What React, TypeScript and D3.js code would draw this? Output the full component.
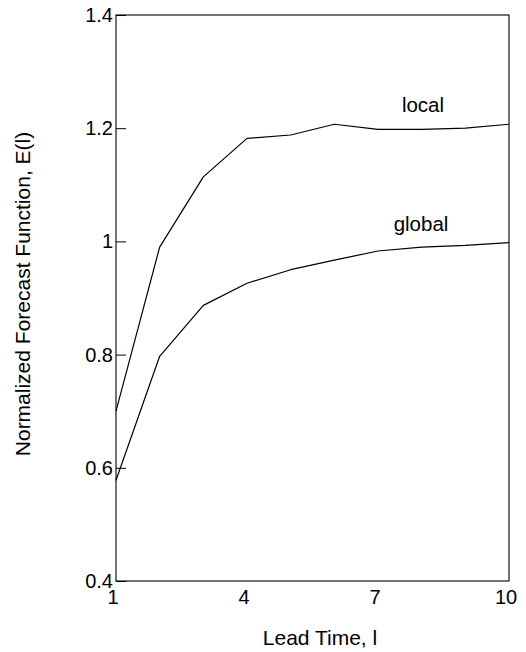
import { useRef, useEffect } from "react";
import * as d3 from "d3";

// lead time l = 1..10
const leadTimes = [1, 2, 3, 4, 5, 6, 7, 8, 9, 10];
const localValues = [0.70, 0.99, 1.114, 1.182, 1.188, 1.207, 1.198, 1.198, 1.2, 1.207];
const globalValues = [0.578, 0.797, 0.887, 0.926, 0.95, 0.967, 0.983, 0.99, 0.993, 0.998];
const xTicks = [1, 4, 7, 10];
const yTicks = [0.4, 0.6, 0.8, 1, 1.2, 1.4];

const W = 526;
const H = 652;
const FONT = "'Liberation Sans', Arial, Helvetica, sans-serif";

export default function App() {
  const svgRef = useRef<SVGSVGElement>(null);

  useEffect(() => {
    if (!svgRef.current) return;
    const margin = { top: 15, right: 17, bottom: 71, left: 116 };
    const svg = d3.select(svgRef.current);
    svg.selectAll("*").remove();
    svg.attr("width", W).attr("height", H);

    const x = d3.scaleLinear().domain([1, 10]).range([margin.left, W - margin.right]);
    const y = d3.scaleLinear().domain([0.4, 1.4]).range([H - margin.bottom, margin.top]);

    const g = svg.append("g");

    // frame
    g.append("rect")
      .attr("x", x(1))
      .attr("y", y(1.4))
      .attr("width", x(10) - x(1))
      .attr("height", y(0.4) - y(1.4))
      .attr("fill", "none")
      .attr("stroke", "#000")
      .attr("stroke-width", 1.1);

    // y axis, ticks pointing inward
    g.append("g")
      .attr("transform", `translate(${x(1)},0)`)
      .call(
        d3.axisRight(y)
          .tickValues(yTicks)
          .tickSize(10)
          .tickFormat(() => "")
      )
      .call((a) => a.select(".domain").remove())
      .call((a) => a.selectAll(".tick line").attr("stroke", "#000"));

    g.append("g")
      .selectAll("text")
      .data(yTicks)
      .join("text")
      .attr("x", x(1) - 3)
      .attr("y", (d) => y(d) + 7)
      .attr("text-anchor", "end")
      .style("font-family", FONT)
      .style("font-size", "20px")
      .style("fill", "#000")
      .text((d) => String(d));

    // x tick labels
    g.append("g")
      .selectAll("text")
      .data(xTicks)
      .join("text")
      .attr("x", (d) => x(d) - 3)
      .attr("y", y(0.4) + 23)
      .attr("text-anchor", "middle")
      .style("font-family", FONT)
      .style("font-size", "20px")
      .style("fill", "#000")
      .text((d) => String(d));

    // lines
    const line = d3
      .line<number>()
      .x((_, i) => x(leadTimes[i]))
      .y((d) => y(d));

    [localValues, globalValues].forEach((vals) => {
      g.append("path")
        .attr("d", line(vals))
        .attr("fill", "none")
        .attr("stroke", "#000")
        .attr("stroke-width", 1.2)
        .attr("stroke-linejoin", "round");
    });

    // series labels
    g.append("text")
      .attr("x", 423)
      .attr("y", 112)
      .attr("text-anchor", "middle")
      .style("font-family", FONT)
      .style("font-size", "20.5px")
      .style("fill", "#000")
      .text("local");
    g.append("text")
      .attr("x", 421)
      .attr("y", 231)
      .attr("text-anchor", "middle")
      .style("font-family", FONT)
      .style("font-size", "20.5px")
      .style("fill", "#000")
      .text("global");

    // axis titles
    g.append("text")
      .attr("x", 320)
      .attr("y", 645)
      .attr("text-anchor", "middle")
      .style("font-family", FONT)
      .style("font-size", "21px")
      .style("fill", "#000")
      .text("Lead Time, l");

    g.append("text")
      .attr("transform", `translate(30,294) rotate(-90)`)
      .attr("text-anchor", "middle")
      .style("font-family", FONT)
      .style("font-size", "21px")
      .style("fill", "#000")
      .text("Normalized Forecast Function, E(l)");
  }, []);

  return (
    <div style={{ position: "absolute", left: 0, top: 0, width: W, height: H, background: "#fff" }}>
      <svg ref={svgRef} style={{ display: "block" }} />
    </div>
  );
}
